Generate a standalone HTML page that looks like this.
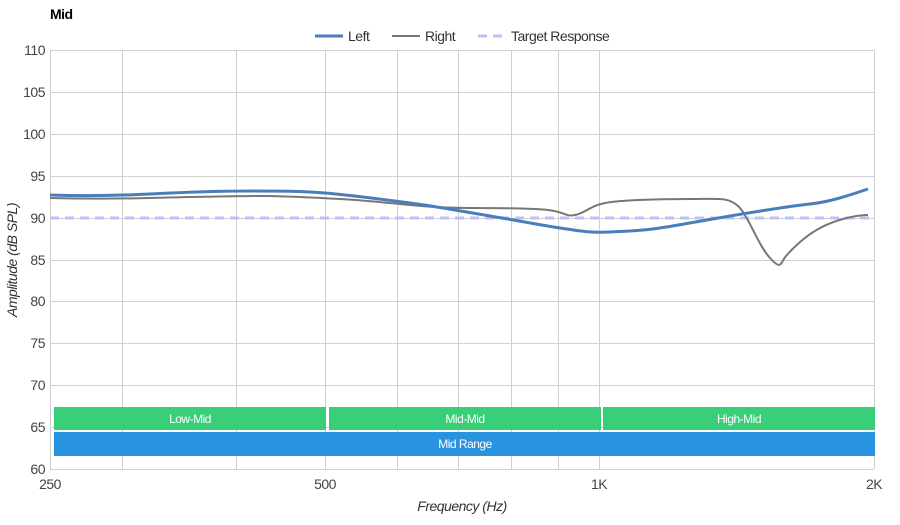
<!DOCTYPE html>
<html><head><style>
body{margin:0;background:#fff;font-family:"Liberation Sans",sans-serif;}
</style></head><body>
<svg width="900" height="520" xmlns="http://www.w3.org/2000/svg" font-family="Liberation Sans, sans-serif">
<rect width="900" height="520" fill="#fff"/>
<text x="50" y="19" font-size="14" font-weight="bold" fill="#000" letter-spacing="-0.5">Mid</text>
<line x1="315" y1="36" x2="343" y2="36" stroke="#4a7ebb" stroke-width="3"/>
<text x="348" y="41" font-size="14" fill="#333" letter-spacing="-0.5">Left</text>
<line x1="392" y1="36" x2="420" y2="36" stroke="#777" stroke-width="2"/>
<text x="425" y="41" font-size="14" fill="#333" letter-spacing="-0.5">Right</text>
<line x1="478" y1="36" x2="506" y2="36" stroke="#c0c0f8" stroke-width="3" stroke-dasharray="9,6"/>
<text x="511" y="41" font-size="14" fill="#333" letter-spacing="-0.5">Target Response</text>
<g stroke="#d0d0d0" stroke-width="1">
<line x1="50" y1="50.5" x2="874" y2="50.5"/><line x1="50" y1="92.5" x2="874" y2="92.5"/>
<line x1="50" y1="134.5" x2="874" y2="134.5"/><line x1="50" y1="176.5" x2="874" y2="176.5"/>
<line x1="50" y1="218.5" x2="874" y2="218.5"/><line x1="50" y1="260.5" x2="874" y2="260.5"/>
<line x1="50" y1="301.5" x2="874" y2="301.5"/><line x1="50" y1="343.5" x2="874" y2="343.5"/>
<line x1="50" y1="385.5" x2="874" y2="385.5"/><line x1="50" y1="427.5" x2="874" y2="427.5"/>
<line x1="50" y1="469.5" x2="874" y2="469.5"/>
<line x1="50.5" y1="50" x2="50.5" y2="469"/><line x1="122.5" y1="50" x2="122.5" y2="469"/>
<line x1="236.5" y1="50" x2="236.5" y2="469"/><line x1="325.5" y1="50" x2="325.5" y2="469"/>
<line x1="397.5" y1="50" x2="397.5" y2="469"/><line x1="458.5" y1="50" x2="458.5" y2="469"/>
<line x1="511.5" y1="50" x2="511.5" y2="469"/><line x1="558.5" y1="50" x2="558.5" y2="469"/>
<line x1="599.5" y1="50" x2="599.5" y2="469"/><line x1="874.5" y1="50" x2="874.5" y2="469"/>
</g>
<g font-size="14" fill="#444" text-anchor="end" letter-spacing="-0.5">
<text x="45" y="55">110</text><text x="45" y="97">105</text><text x="45" y="139">100</text>
<text x="45" y="181">95</text><text x="45" y="223">90</text><text x="45" y="265">85</text>
<text x="45" y="306">80</text><text x="45" y="348">75</text><text x="45" y="390">70</text>
<text x="45" y="432">65</text><text x="45" y="474">60</text>
</g>
<g font-size="14" fill="#444" text-anchor="middle" letter-spacing="-0.5">
<text x="50" y="489">250</text><text x="325" y="489">500</text><text x="599" y="489">1K</text><text x="874" y="489">2K</text>
</g>
<text x="462" y="511" font-size="14" font-style="italic" fill="#333" text-anchor="middle" letter-spacing="-0.5">Frequency (Hz)</text>
<text transform="translate(17,260) rotate(-90)" font-size="14" font-style="italic" fill="#333" text-anchor="middle" letter-spacing="-0.5">Amplitude (dB SPL)</text>
<rect x="54" y="407" width="272" height="23" fill="#2ecc71" opacity="0.95"/>
<rect x="329" y="407" width="272" height="23" fill="#2ecc71" opacity="0.95"/>
<rect x="603" y="407" width="272" height="23" fill="#2ecc71" opacity="0.95"/>
<rect x="54" y="432" width="821" height="24" fill="#2a93e0"/>
<g font-size="12" fill="#fff" text-anchor="middle" letter-spacing="-0.5">
<text x="190" y="423">Low-Mid</text><text x="465" y="423">Mid-Mid</text><text x="739" y="423">High-Mid</text>
<text x="465" y="448">Mid Range</text>
</g>
<line x1="50" y1="218" x2="874" y2="218" stroke="#c0c0f8" stroke-width="3" stroke-dasharray="9,6"/>
<path d="M50,198 C90,199 110,199 150,198 S230,196 260,196 S320,198 340,199 S390,203 410,205 S450,208 470,208 S530,208 548,210 S565,217 575,215 S590,206 605,203 S660,199 690,199 S728,197 738,206 S758,245 770,258 S780,263 786,256 S805,236 820,228 S855,215 868,215" fill="none" stroke="#777" stroke-width="2"/>
<path d="M50,195 C80,196 110,196 150,194 S220,191 250,191 S300,191 325,193 S380,199 410,203 S460,211 490,216 S540,225 560,228 S590,233 610,232 S640,231 660,228 S700,221 730,216 S790,206 810,204 S850,195 868,189" fill="none" stroke="#4a7ebb" stroke-width="3"/>
</svg>
</body></html>
